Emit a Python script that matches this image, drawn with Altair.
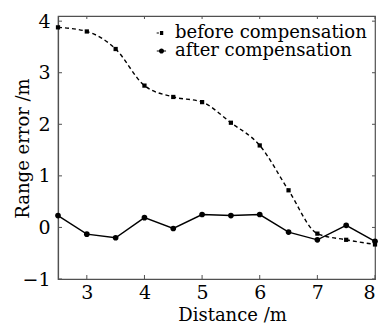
import altair as alt
import pandas as pd

distance = [2.5, 3, 3.5, 4, 4.5, 5, 5.5, 6, 6.5, 7, 7.5, 8]
before = [3.88, 3.80, 3.46, 2.75, 2.53, 2.43, 2.03, 1.59, 0.72, -0.12, -0.24, -0.33]
after = [0.23, -0.13, -0.20, 0.19, -0.02, 0.25, 0.23, 0.25, -0.09, -0.24, 0.04, -0.27]
series_names = ["before compensation", "after compensation"]
x_ticks = [3, 4, 5, 6, 7, 8]
y_ticks = [-1, 0, 1, 2, 3, 4]

df_before = pd.DataFrame({"Distance": distance, "Error": before})
df_after = pd.DataFrame({"Distance": distance, "Error": after})
df_legend = pd.DataFrame({"Key": series_names})
df_xt = pd.DataFrame({"Distance": x_ticks})
df_yt = pd.DataFrame({"Error": y_ticks})

FONT = "DejaVu Serif"
AX = "#505050"
W, H = 317, 263

xs = alt.Scale(domain=[2.5, 8], nice=False, zero=False)
ys = alt.Scale(domain=[-1, 4.1], nice=False, zero=False)

x = alt.X("Distance:Q", scale=xs,
          axis=alt.Axis(title="Distance /m", values=x_ticks, format="d", grid=False,
                        ticks=False, tickSize=0, labelPadding=4,
                        titleX=174, titleY=41, titleBaseline="alphabetic"))
y = alt.Y("Error:Q", scale=ys,
          axis=alt.Axis(title="Range error /m", values=y_ticks, format="d", grid=False,
                        ticks=False, tickSize=0, labelPadding=8,
                        titleX=-35, titleY=132, titleBaseline="middle", titleAngle=270))

before_line = alt.Chart(df_before).mark_line(
    color="black", strokeWidth=1.4, interpolate="monotone", strokeDash=[4, 3]).encode(x=x, y=y)
before_pts = alt.Chart(df_before).mark_point(
    filled=True, color="black", opacity=1, shape="square", size=18).encode(x=x, y=y)
after_line = alt.Chart(df_after).mark_line(color="black", strokeWidth=1.4).encode(x=x, y=y)
after_pts = alt.Chart(df_after).mark_point(
    filled=True, color="black", opacity=1, shape="circle", size=32).encode(x=x, y=y)

# inward tick marks
xt_bottom = alt.Chart(df_xt).mark_rule(color=AX, strokeWidth=1).encode(
    x=alt.X("Distance:Q", scale=xs), y=alt.value(H), y2=alt.value(H - 4))
xt_top = alt.Chart(df_xt).mark_rule(color=AX, strokeWidth=1).encode(
    x=alt.X("Distance:Q", scale=xs), y=alt.value(0), y2=alt.value(3))
yt_left = alt.Chart(df_yt).mark_rule(color=AX, strokeWidth=1).encode(
    y=alt.Y("Error:Q", scale=ys), x=alt.value(0), x2=alt.value(4))
yt_right = alt.Chart(df_yt).mark_rule(color=AX, strokeWidth=1).encode(
    y=alt.Y("Error:Q", scale=ys), x=alt.value(W), x2=alt.value(W - 3))

before_sym = ("M-0.62,-0.08L-0.3,-0.08L-0.3,0.08L-0.62,0.08Z "
              "M-0.15,-0.3L0.32,-0.3L0.32,0.3L-0.15,0.3Z")
after_sym = ("M-0.6,-0.08L0.72,-0.08L0.72,0.08L-0.6,0.08Z "
             "M-0.3,0A0.37,0.37 0 1,1 0.44,0A0.37,0.37 0 1,1 -0.3,0Z")

legend_layer = alt.Chart(df_legend).transform_filter("false").mark_point(
    filled=True, color="black", opacity=1).encode(
    shape=alt.Shape("Key:N", scale=alt.Scale(domain=series_names, range=[before_sym, after_sym]),
                    legend=alt.Legend(title=None, orient="none", legendX=94, legendY=8,
                                      padding=0, labelFont=FONT, labelFontSize=18,
                                      labelColor="black", labelLimit=0,
                                      symbolFillColor="black", symbolStrokeWidth=0,
                                      symbolSize=196, rowPadding=0, labelOffset=5)))

chart = (before_line + after_line + before_pts + after_pts
         + xt_bottom + xt_top + yt_left + yt_right + legend_layer).properties(
    width=W, height=H,
    autosize=alt.AutoSizeParams(type="none"),
    padding={"left": 58, "top": 16, "right": 12, "bottom": 50},
    background="white",
).configure_view(stroke=AX, strokeWidth=1.2).configure_axis(
    labelFont=FONT, titleFont=FONT, labelFontSize=19, titleFontSize=18,
    labelColor="black", titleColor="black", titleFontWeight="normal",
    domainColor=AX, domainWidth=1.2,
)

chart.save("out.html", embed_options={"renderer": "svg", "actions": False})
